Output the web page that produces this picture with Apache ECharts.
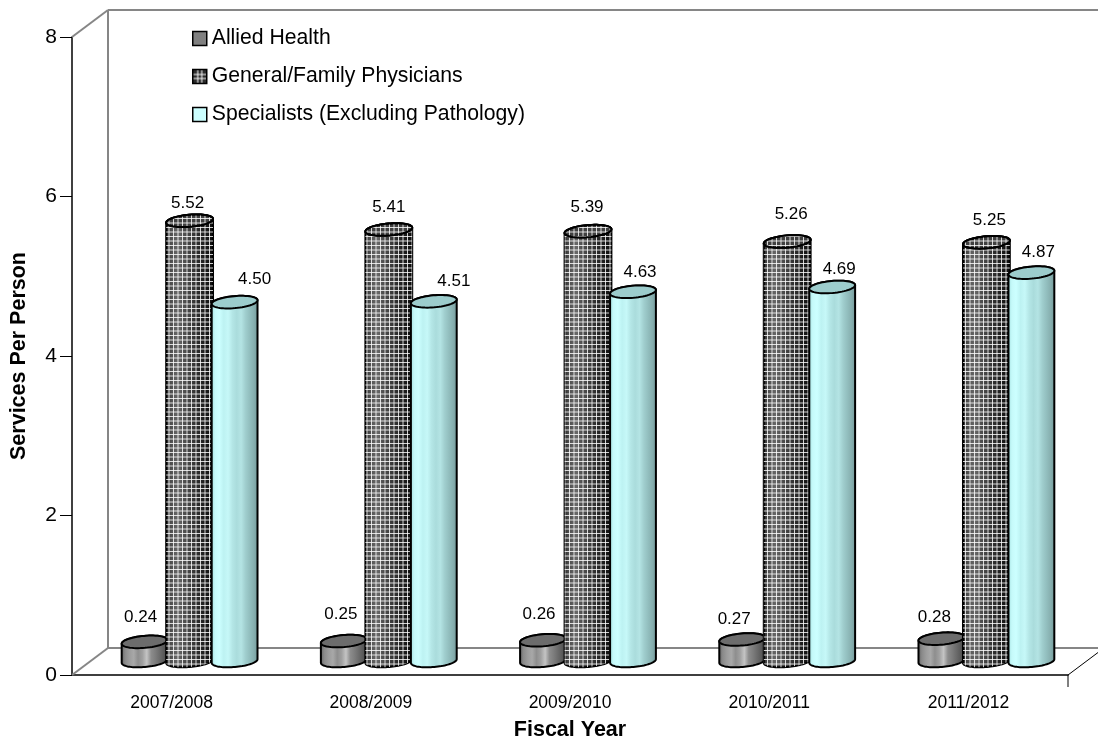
<!DOCTYPE html>
<html>
<head>
<meta charset="utf-8">
<style>html,body{margin:0;padding:0;background:#fff}#chart{width:1098px;height:739px}</style>
<script src="https://cdn.jsdelivr.net/npm/echarts@6/dist/echarts.min.js"></script>
</head>
<body>
<div id="chart"></div>
<script>
// Services per person by fiscal year
const fiscalYears = ['2007/2008', '2008/2009', '2009/2010', '2010/2011', '2011/2012'];
const alliedHealth = [0.24, 0.25, 0.26, 0.27, 0.28];
const generalPhysicians = [5.52, 5.41, 5.39, 5.26, 5.25];
const specialists = [4.50, 4.51, 4.63, 4.69, 4.87];
const yTicks = [0, 2, 4, 6, 8];

// Value labels sit by hand around each cylinder lid: [dx, dy] from the lid centre
const alliedLabelNudge = [[-4, -25], [-3, -27], [-4, -26], [-8, -20], [-7, -21]];
const generalLabelNudge = [[-2, -17], [0, -22], [-1, -24], [4, -27], [3, -22]];
const specialistLabelNudge = [[20, -23], [20, -20], [7, -19], [7, -18], [7, -20]];

// Perspective of the 3D box and the cylinders inside it
const DEPTH_X = 36, DEPTH_Y = 27;
const MID_X = 18, MID_Y = 14;
const RY = 6, TILT = -5 * Math.PI / 180, SPACING = 45;
const FONT = '"Liberation Sans", Arial, sans-serif';

function gridPattern() {
  const c = document.createElement('canvas');
  c.width = 9; c.height = 9;
  const g = c.getContext('2d');
  g.fillStyle = 'rgba(255,255,255,0.8)';
  g.fillRect(2, 0, 1, 9);
  g.fillRect(6.5, 0, 1, 9);
  g.fillRect(0, 2, 9, 1);
  g.fillRect(0, 6.5, 9, 1);
  return c;
}

function stripes(stops) {
  return {
    type: 'linear', x: 0, y: 0, x2: 1, y2: 0,
    colorStops: stops.map((color, i) => ({ offset: i / (stops.length - 1), color }))
  };
}

const alliedFill = stripes(['#5e5e5e', '#8a8a8a', '#9c9c9c', '#a8a8a8', '#8e8e8e', '#a0a0a0', '#c4c4c4', '#8c8c8c', '#7c7c7c', '#6a6a6a', '#585858', '#444444']);
const generalFill = stripes(['#242424', '#484848', '#5c5c5c', '#686868', '#525252', '#484848', '#3c3c3c', '#303030', '#262626', '#1c1c1c', '#141414', '#0a0a0a']);
const specialistFill = stripes(['#9fdcdc', '#c6fafa', '#ccffff', '#bdf2f2', '#c6f8f8', '#b4e6e6', '#aadcdc', '#b4e4e4', '#a0cece', '#92bebe', '#86aeae', '#6f9494']);
const capColours = { allied: '#6c6c6c', general: '#404040', specialist: '#9ccccc' };

function arc(cx, cy, rx, t0, t1, n) {
  const pts = [];
  for (let i = 0; i <= n; i++) {
    const t = t0 + (t1 - t0) * i / n;
    const ex = rx * Math.cos(t), ey = RY * Math.sin(t);
    pts.push([cx + ex * Math.cos(TILT) - ey * Math.sin(TILT), cy + ex * Math.sin(TILT) + ey * Math.cos(TILT)]);
  }
  return pts;
}

function cylinderSeries(name, values, slot, fill, cap, overlay, nudges, rx) {
  return {
    name, type: 'custom', z: 3 + slot,
    data: values.map((v, i) => [i, v]),
    encode: { x: 0, y: 1 },
    itemStyle: { color: cap },
    renderItem(params, api) {
      const idx = api.value(0);
      const base = api.coord([idx, 0]);
      const top = api.coord([idx, api.value(1)]);
      const cx = base[0] + MID_X + slot * SPACING;
      const by = base[1] - MID_Y, ty = top[1] - MID_Y;
      const side = arc(cx, by, rx, 0, Math.PI, 40).concat(arc(cx, ty, rx, Math.PI, 2 * Math.PI, 40));
      const lid = arc(cx, ty, rx, 0, 2 * Math.PI, 60);
      const line = { stroke: '#000', lineWidth: 2 };
      const children = [
        { type: 'polygon', shape: { points: side }, style: Object.assign({ fill }, line) }
      ];
      if (overlay) {
        children.push({ type: 'polygon', shape: { points: side }, style: { fill: overlay, stroke: null } });
      }
      children.push({ type: 'polygon', shape: { points: lid }, style: Object.assign({ fill: cap }, line) });
      if (overlay) {
        children.push({ type: 'polygon', shape: { points: lid }, style: { fill: overlay, stroke: null } });
        children.push({ type: 'polygon', shape: { points: lid }, style: Object.assign({ fill: null }, line) });
      }
      children.push({
        type: 'text',
        style: {
          x: cx + nudges[idx][0], y: ty + nudges[idx][1],
          text: api.value(1).toFixed(2),
          font: '17px ' + FONT,
          fill: '#000', align: 'center', verticalAlign: 'middle'
        },
        z2: 20
      });
      return { type: 'group', children };
    }
  };
}

// Back wall, floor edges and the front-right corner of the box
const frameSeries = {
  type: 'custom', z: 1, silent: true, data: [[0, 0]], encode: { x: 0, y: 1 },
  renderItem(params) {
    const s = params.coordSys;
    const L = s.x, R = s.x + s.width, T = s.y, B = s.y + s.height;
    const grey = { stroke: '#868686', lineWidth: 2 };
    const seg = (x1, y1, x2, y2, style) => ({ type: 'line', shape: { x1, y1, x2, y2 }, style });
    return {
      type: 'group',
      children: [
        seg(L, T, L + DEPTH_X, T - DEPTH_Y, grey),
        seg(L + DEPTH_X, T - DEPTH_Y, L + DEPTH_X, B - DEPTH_Y, grey),
        seg(L + DEPTH_X, T - DEPTH_Y, R + DEPTH_X, T - DEPTH_Y, grey),
        seg(L, B, L + DEPTH_X, B - DEPTH_Y, grey),
        seg(L + DEPTH_X, B - DEPTH_Y, R + DEPTH_X, B - DEPTH_Y, grey),
        seg(R, B, R + DEPTH_X, B - DEPTH_Y, { stroke: '#000', lineWidth: 1 }),
        seg(R, B, R, B + 12, { stroke: '#000', lineWidth: 1 })
      ]
    };
  }
};

const pattern = { image: gridPattern(), repeat: 'repeat' };
const names = ['Allied Health', 'General/Family Physicians', 'Specialists (Excluding Pathology)'];

function swatch() {
  const c = document.createElement('canvas');
  c.width = 14; c.height = 14;
  const g = c.getContext('2d');
  g.fillStyle = '#2c2c2c';
  g.fillRect(0, 0, 14, 14);
  g.fillStyle = '#fff';
  [4.5, 8.5].forEach(p => { g.fillRect(p, 0, 1, 14); g.fillRect(0, p, 14, 1); });
  return c;
}

const chart = echarts.init(document.getElementById('chart'), null, { renderer: 'canvas' });
chart.setOption({
  animation: false,
  backgroundColor: '#fff',
  textStyle: { fontFamily: FONT },
  grid: { left: 72, top: 37, width: 996, height: 638, containLabel: false, outerBoundsMode: 'none' },
  legend: {
    orient: 'vertical', left: 187, top: 23, itemWidth: 14, itemHeight: 14, itemGap: 17,
    selectedMode: false,
    textStyle: { fontSize: 21.2, color: '#000', fontFamily: FONT },
    data: [
      { name: names[0], icon: 'rect', itemStyle: { color: '#808080', borderColor: '#000', borderWidth: 1.5 } },
      { name: names[1], icon: 'rect', itemStyle: { color: { image: swatch(), repeat: 'repeat' }, borderColor: '#000', borderWidth: 1.5 } },
      { name: names[2], icon: 'rect', itemStyle: { color: '#ccffff', borderColor: '#000', borderWidth: 1.5 } }
    ]
  },
  xAxis: {
    type: 'category', data: fiscalYears, boundaryGap: true,
    name: 'Fiscal Year', nameLocation: 'middle', nameGap: 44,
    nameTextStyle: { fontWeight: 'bold', fontSize: 21.5, color: '#000', fontFamily: FONT },
    axisLine: { lineStyle: { color: '#000', width: 1.5 } },
    axisTick: { alignWithLabel: false, length: 12, lineStyle: { color: '#000' } },
    axisLabel: { fontSize: 17.5, color: '#000', margin: 19, fontFamily: FONT },
    splitLine: { show: false }
  },
  yAxis: {
    type: 'value', min: yTicks[0], max: yTicks[yTicks.length - 1], interval: 2,
    name: 'Services Per Person', nameLocation: 'middle', nameGap: 42,
    nameTextStyle: { fontWeight: 'bold', fontSize: 21.5, color: '#000', fontFamily: FONT },
    axisLine: { show: true, lineStyle: { color: '#000', width: 1.5 } },
    axisTick: { show: true, length: 12, lineStyle: { color: '#000' } },
    axisLabel: { fontSize: 21, color: '#000', margin: 15, fontFamily: FONT },
    splitLine: { show: false }
  },
  series: [
    frameSeries,
    cylinderSeries(names[0], alliedHealth, -1, alliedFill, capColours.allied, null, alliedLabelNudge, 23),
    cylinderSeries(names[1], generalPhysicians, 0, generalFill, capColours.general, pattern, generalLabelNudge, 23.5),
    cylinderSeries(names[2], specialists, 1, specialistFill, capColours.specialist, null, specialistLabelNudge, 23)
  ]
});
</script>
</body>
</html>
